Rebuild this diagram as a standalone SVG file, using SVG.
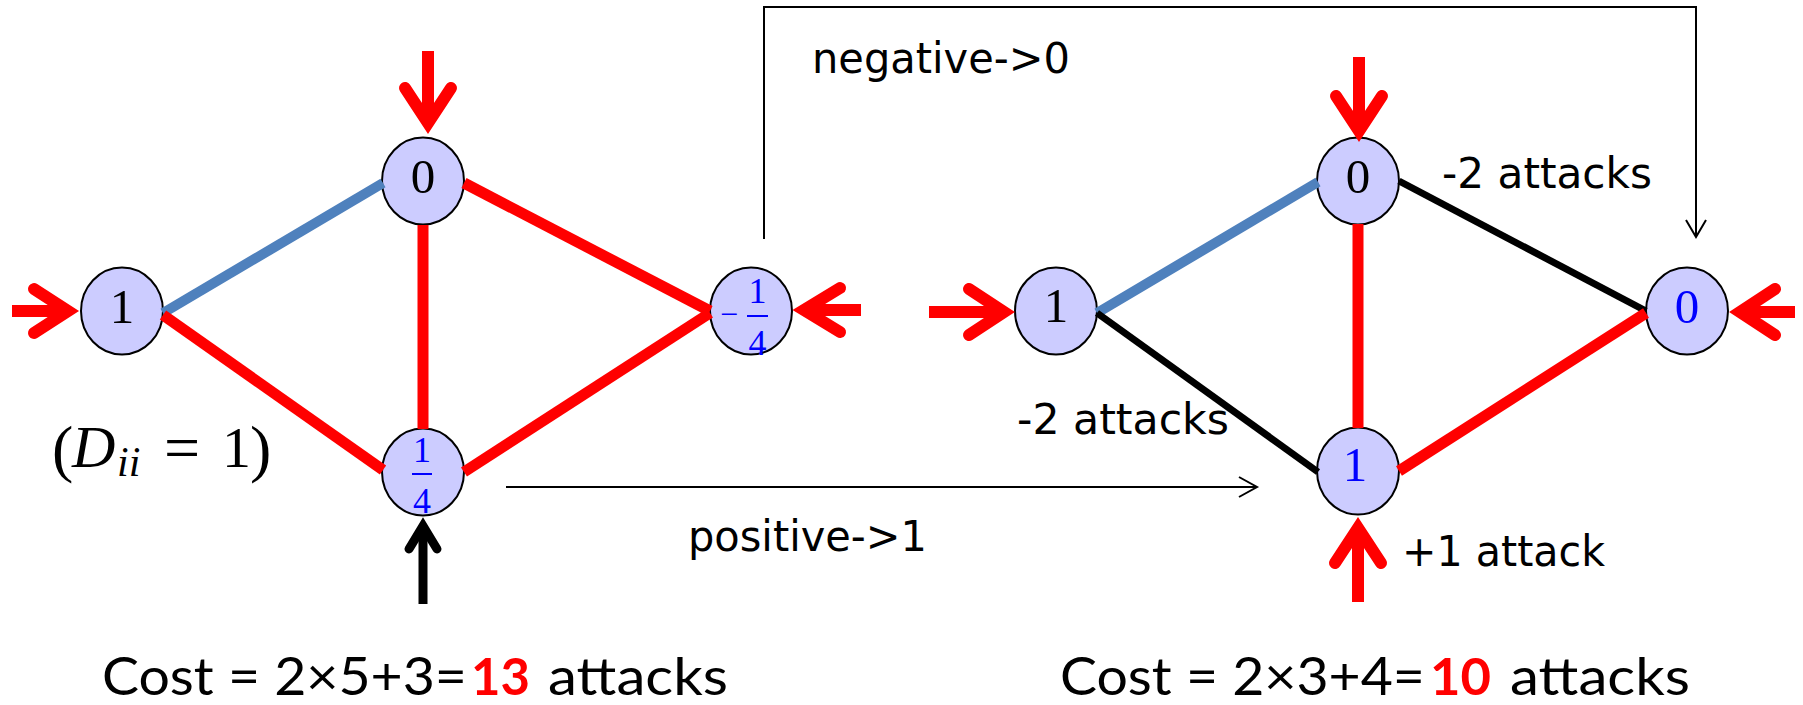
<svg xmlns="http://www.w3.org/2000/svg" width="1803" height="705" viewBox="0 0 1803 705">
<style>
  .node { fill: #ccccff; stroke: #000; stroke-width: 2; }
  .num { font-family: "Liberation Serif", "DejaVu Serif", serif; font-size: 49px; text-anchor: middle; fill: #000; }
  .blue { fill: #0000ff; }
  .frac { font-family: "Liberation Serif", "DejaVu Serif", serif; font-size: 36px; text-anchor: middle; fill: #0000ff; }
  .bar { stroke: #0000ff; stroke-width: 2; }
  .e-red { stroke: #ff0000; stroke-width: 11; fill: none; }
  .e-blue { stroke: #4f81bd; stroke-width: 10; fill: none; }
  .e-black { stroke: #000; stroke-width: 7; fill: none; }
  .in-red { stroke: #ff0000; stroke-width: 12; fill: none; stroke-linejoin: miter; }
  .in-black { stroke: #000; stroke-width: 9; fill: none; stroke-linejoin: miter; }
  .head { stroke-linecap: round; }
  .thin { stroke: #000; stroke-width: 2; fill: none; }
  .lbl { font-family: "DejaVu Sans", Verdana, sans-serif; font-size: 42px; fill: #000; }
  .cost { font-family: Lato, "Open Sans", sans-serif; font-size: 52px; fill: #000; }
  .costred { font-family: Lato, "Open Sans", sans-serif; font-size: 52px; font-weight: bold; fill: #ff0000; }
  .math { font-family: "Liberation Serif", "DejaVu Serif", serif; font-size: 58px; fill: #000; }
</style>

<!-- nodes -->
<g id="L1"><ellipse class="node" cx="122" cy="311" rx="41" ry="43.5"/><text class="num" x="122" y="323">1</text></g>
<g id="L0"><ellipse class="node" cx="423" cy="181" rx="41" ry="43.5"/><text class="num" x="423" y="193">0</text></g>
<g id="Lq"><ellipse class="node" cx="751" cy="311" rx="41" ry="43.5"/>
  <text class="frac" x="729" y="325" style="font-size:32px">−</text>
  <text class="frac" x="757.5" y="303">1</text>
  <line class="bar" x1="747" y1="316" x2="768" y2="316"/>
  <text class="frac" x="757.5" y="355">4</text></g>
<g id="Lb"><ellipse class="node" cx="423" cy="472" rx="41" ry="43.5"/>
  <text class="frac" x="422" y="462">1</text>
  <line class="bar" x1="412" y1="474" x2="432" y2="474"/>
  <text class="frac" x="422" y="513">4</text></g>

<g id="R1"><ellipse class="node" cx="1056" cy="311" rx="41" ry="43.5"/><text class="num" x="1056" y="322">1</text></g>
<g id="R0"><ellipse class="node" cx="1358" cy="181" rx="41" ry="43.5"/><text class="num" x="1358" y="193">0</text></g>
<g id="Rr"><ellipse class="node" cx="1687" cy="311" rx="41" ry="43.5"/><text class="num blue" x="1687" y="323">0</text></g>
<g id="Rb"><ellipse class="node" cx="1358" cy="471" rx="41" ry="43.5"/><text class="num blue" x="1355" y="481">1</text></g>

<!-- connectors -->
<g id="connectors">
  <!-- left graph edges -->
  <line class="e-blue" x1="163" y1="313" x2="383" y2="183"/>
  <line class="e-red" x1="163" y1="315" x2="383" y2="470"/>
  <line class="e-red" x1="423" y1="225" x2="423" y2="429"/>
  <line class="e-red" x1="464" y1="183" x2="710" y2="311"/>
  <line class="e-red" x1="464" y1="472" x2="710" y2="313"/>
  <!-- right graph edges -->
  <line class="e-blue" x1="1097" y1="313" x2="1318" y2="182"/>
  <line class="e-black" x1="1097" y1="313" x2="1318" y2="472"/>
  <line class="e-red" x1="1358" y1="224" x2="1358" y2="428"/>
  <line class="e-black" x1="1399" y1="181" x2="1646" y2="311"/>
  <line class="e-red" x1="1399" y1="471" x2="1646" y2="313"/>

  <!-- attack arrows left -->
  <path class="in-red" d="M12 311 H68"/><path class="in-red head" d="M34 289 L68 311 L34 333"/>
  <path class="in-red" d="M428 51 V123"/><path class="in-red head" d="M405 88 L428 123 L451 88"/>
  <path class="in-red" d="M861 310 H804"/><path class="in-red head" d="M840 288 L804 310 L840 332"/>
  <path class="in-black" d="M423 604 V526"/><path class="in-black head" d="M409 549 L423 526 L437 549"/>
  <!-- attack arrows right -->
  <path class="in-red" d="M929 312 H1004"/><path class="in-red head" d="M969 289 L1004 312 L969 335"/>
  <path class="in-red" d="M1359 57 V131"/><path class="in-red head" d="M1336 96 L1359 131 L1382 96"/>
  <path class="in-red" d="M1795 312 H1740"/><path class="in-red head" d="M1775 289 L1740 312 L1775 335"/>
  <path class="in-red" d="M1358 602 V528"/><path class="in-red head" d="M1335 563 L1358 528 L1381 563"/>

  <!-- mapping connectors -->
  <path class="thin" d="M764 239 V7 H1696 V236"/>
  <path class="thin" d="M1686 220 L1696 237 L1706 220"/>
  <path class="thin" d="M506 487 H1256"/>
  <path class="thin" d="M1239 477 L1257 487 L1239 497"/>
</g>

<!-- labels -->
<g id="labels">
  <text class="lbl" x="812" y="73" textLength="258" lengthAdjust="spacingAndGlyphs">negative-&gt;0</text>
  <text class="lbl" x="688" y="551" textLength="239" lengthAdjust="spacingAndGlyphs">positive-&gt;1</text>
  <text class="lbl" x="1442" y="188" textLength="210" lengthAdjust="spacingAndGlyphs">-2 attacks</text>
  <text class="lbl" x="1017" y="434" textLength="212" lengthAdjust="spacingAndGlyphs">-2 attacks</text>
  <text class="lbl" x="1402" y="566" textLength="203" lengthAdjust="spacingAndGlyphs">+1 attack</text>

  <text class="math"><tspan x="52" y="470" font-size="64">(</tspan><tspan x="72" y="467" font-style="italic" font-size="60">D</tspan><tspan x="117" y="476" font-style="italic" font-size="42">ii</tspan><tspan x="164" y="469" font-size="64">=</tspan><tspan x="222" y="467">1</tspan><tspan x="250" y="470" font-size="64">)</tspan></text>

  <text class="cost" x="102" y="695" textLength="365" lengthAdjust="spacingAndGlyphs">Cost = 2×5+3=</text>
  <text class="costred" x="471" y="695" textLength="59" lengthAdjust="spacingAndGlyphs">13</text>
  <text class="cost" x="548" y="695" textLength="180" lengthAdjust="spacingAndGlyphs">attacks</text>

  <text class="cost" x="1060" y="695" textLength="365" lengthAdjust="spacingAndGlyphs">Cost = 2×3+4=</text>
  <text class="costred" x="1430" y="695" textLength="61" lengthAdjust="spacingAndGlyphs">10</text>
  <text class="cost" x="1510" y="695" textLength="180" lengthAdjust="spacingAndGlyphs">attacks</text>
</g>
</svg>
